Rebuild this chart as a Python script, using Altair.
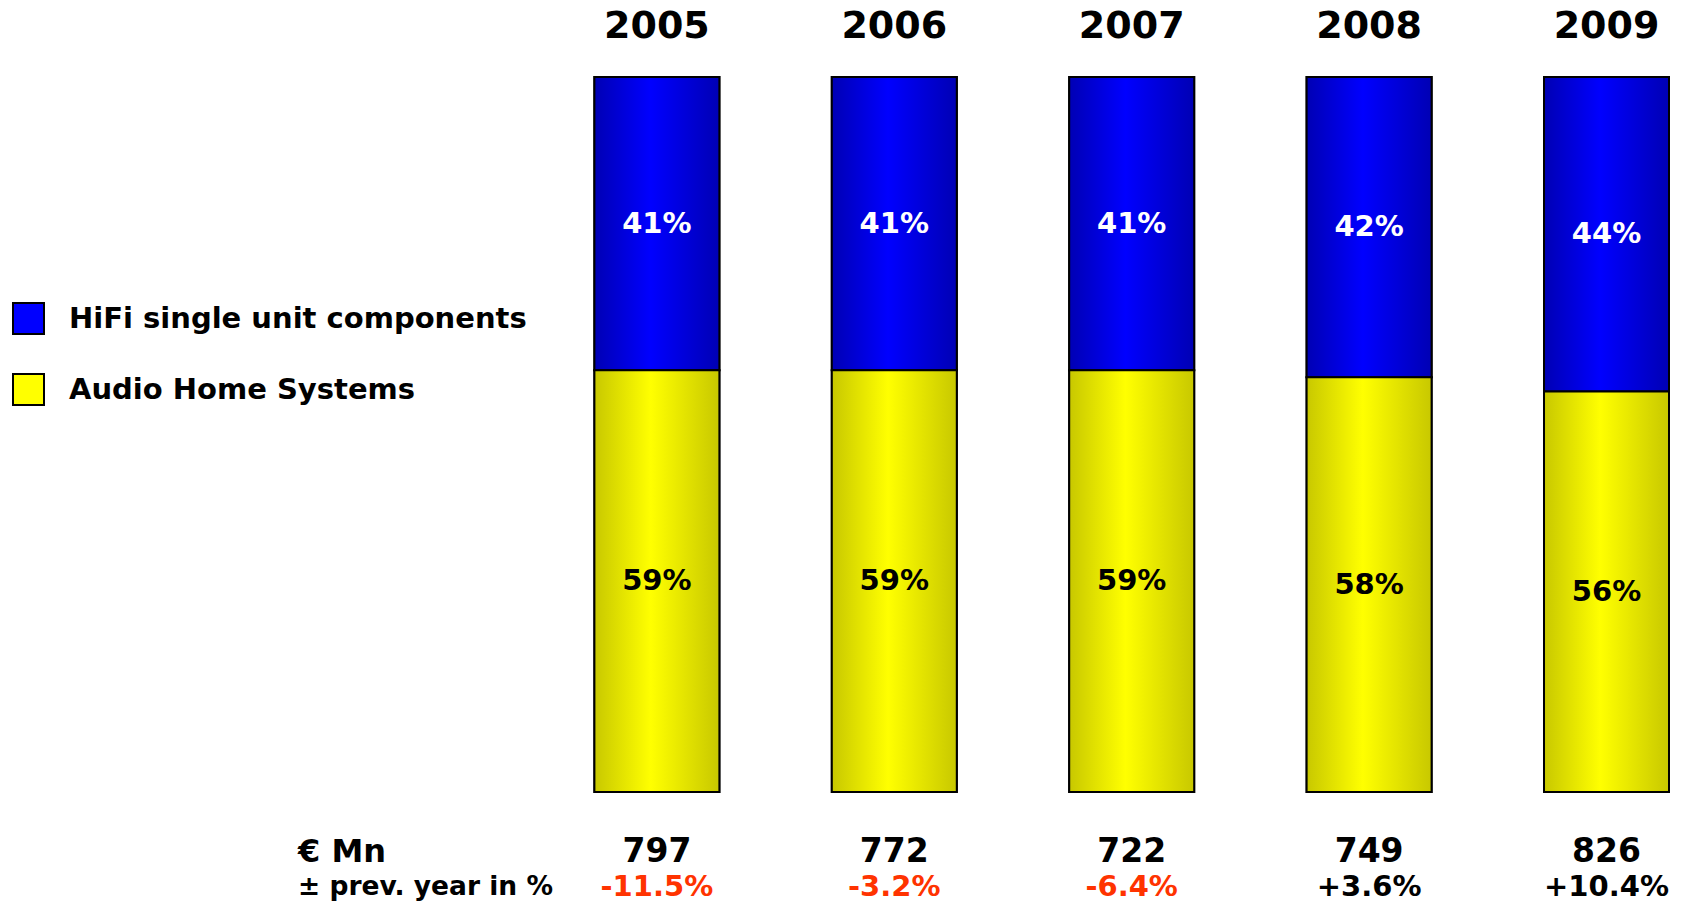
import altair as alt
import pandas as pd

years = ["2005", "2006", "2007", "2008", "2009"]
hifi = [41, 41, 41, 42, 44]
audio = [59, 59, 59, 58, 56]
mn_eur = [797, 772, 722, 749, 826]
change = ["-11.5%", "-3.2%", "-6.4%", "+3.6%", "+10.4%"]
series = ["HiFi single unit components", "Audio Home Systems"]
row_labels = ["€ Mn", "± prev. year in %"]

FONT = "DejaVu Sans"

rows = []
for i, yr in enumerate(years):
    rows.append(dict(year=yr, series=series[1], pct=audio[i], y0=0, y1=audio[i]))
    rows.append(dict(year=yr, series=series[0], pct=hifi[i], y0=audio[i], y1=audio[i] + hifi[i]))
df = pd.DataFrame(rows)
df["label"] = df["pct"].astype(str) + "%"
df["mid"] = (df["y0"] + df["y1"]) / 2

df_year = pd.DataFrame({"year": years, "mn": [str(v) for v in mn_eur], "chg": change})

x_scale = alt.Scale(domain=years, range=[594.4, 1669], paddingInner=0.4735, paddingOuter=0)
y_scale = alt.Scale(domain=[-15.38, 110.77], nice=False, zero=False)

X = alt.X("year:N", scale=x_scale, axis=None)

base = alt.Chart(df)

legend_bars = base.mark_bar(stroke="black", strokeWidth=2).encode(
    x=X,
    y=alt.Y("y1:Q", scale=y_scale, axis=None),
    y2="y0:Q",
    color=alt.Color(
        "series:N",
        scale=alt.Scale(domain=series, range=["#0000ff", "#ffff00"]),
        legend=alt.Legend(
            title=None, orient="none", legendX=12, legendY=302, padding=0,
            symbolType="square", symbolSize=961, symbolStrokeColor="black",
            symbolStrokeWidth=2, symbolOpacity=1,
            labelFont=FONT, labelFontWeight="bold", labelFontSize=29,
            labelColor="black", rowPadding=32, labelOffset=24, labelLimit=700,
        ),
    ),
)

def grad(edge, mid):
    return alt.Gradient(
        gradient="linear", x1=0, x2=1, y1=0, y2=0,
        stops=[alt.GradientStop(color=edge, offset=0),
               alt.GradientStop(color=mid, offset=0.45),
               alt.GradientStop(color=edge, offset=1)],
    )

blue_bars = base.transform_filter(alt.datum.series == series[0]).mark_bar(
    fill=grad("#0000b4", "#0000ff"), stroke="black", strokeWidth=2
).encode(x=X, y=alt.Y("y1:Q", scale=y_scale, axis=None), y2="y0:Q")

yellow_bars = base.transform_filter(alt.datum.series == series[1]).mark_bar(
    fill=grad("#c8c800", "#ffff00"), stroke="black", strokeWidth=2
).encode(x=X, y=alt.Y("y1:Q", scale=y_scale, axis=None), y2="y0:Q")

seg_labels = base.mark_text(font=FONT, fontWeight="bold", fontSize=29, baseline="middle").encode(
    x=X,
    y=alt.Y("mid:Q", scale=y_scale, axis=None),
    text="label:N",
    color=alt.condition(alt.datum.series == series[0], alt.value("white"), alt.value("black")),
)

ybase = alt.Chart(df_year)
year_text = ybase.mark_text(font=FONT, fontWeight="bold", fontSize=38, baseline="middle").encode(
    x=X, y=alt.value(27), text="year:N"
)
mn_text = ybase.mark_text(font=FONT, fontWeight="bold", fontSize=33, baseline="middle", color="black").encode(
    x=X, y=alt.value(852), text="mn:N"
)
chg_text = ybase.mark_text(font=FONT, fontWeight="bold", fontSize=29, baseline="middle").encode(
    x=X, y=alt.value(887), text="chg:N",
    color=alt.condition("indexof(datum.chg, '-') == 0", alt.value("#ff3300"), alt.value("black")),
)

lab_df = pd.DataFrame({"t": row_labels})
lab1 = alt.Chart(lab_df).transform_filter(alt.datum.t == row_labels[0]).mark_text(
    font=FONT, fontWeight="bold", fontSize=32, baseline="middle", align="left", color="black"
).encode(x=alt.value(298), y=alt.value(852), text="t:N")
lab2 = alt.Chart(lab_df).transform_filter(alt.datum.t == row_labels[1]).mark_text(
    font=FONT, fontWeight="bold", fontSize=26.5, baseline="middle", align="left", color="black"
).encode(x=alt.value(298), y=alt.value(887), text="t:N")

chart = alt.layer(
    legend_bars, blue_bars, yellow_bars, seg_labels, year_text, mn_text, chg_text, lab1, lab2
).properties(
    width=1690, height=902, padding=0, autosize=alt.AutoSizeParams(type="none"), background="white"
).configure_view(stroke=None)

chart.save("out.html", embed_options={"renderer": "svg", "actions": False})
